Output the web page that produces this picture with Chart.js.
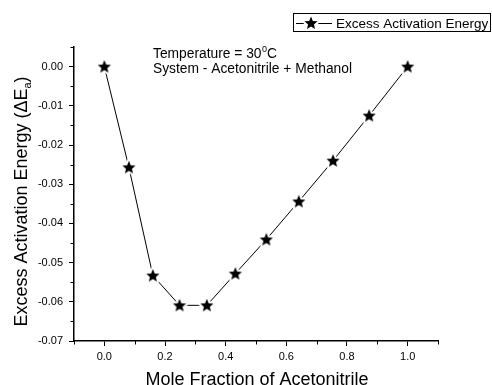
<!DOCTYPE html>
<html>
<head>
<meta charset="utf-8">
<script src="https://cdn.jsdelivr.net/npm/chart.js@4.4.0/dist/chart.umd.min.js"></script>
<style>
  html, body { margin: 0; padding: 0; background: #fff; }
</style>
</head>
<body>
<canvas id="energyChart" width="492" height="385"></canvas>
<script>
// data
const moleFraction = [0, 0.081, 0.160, 0.248, 0.338, 0.432, 0.534, 0.641, 0.754, 0.873, 1.0];
const excessEnergy = [0, -0.0257, -0.0533, -0.0609, -0.0609, -0.0528, -0.0441, -0.0344, -0.0240, -0.0125, 0];
const xTicks = [0, 0.2, 0.4, 0.6, 0.8, 1.0];
const xMinorTicks = [-0.1, 0.1, 0.3, 0.5, 0.7, 0.9, 1.1];
const yTicks = [0, -0.01, -0.02, -0.03, -0.04, -0.05, -0.06, -0.07];
const yMinorTicks = [0.005, -0.005, -0.015, -0.025, -0.035, -0.045, -0.055, -0.065];
const seriesLabel = 'Excess Activation Energy';

const FONT = "'Liberation Sans', Arial, sans-serif";

function makeStar(r) {
  const size = 2 * Math.ceil(r + 3);
  const c = document.createElement('canvas');
  c.width = size;
  c.height = size;
  const g = c.getContext('2d');
  const cx = size / 2, cy = size / 2 + 0.5;
  g.beginPath();
  for (let i = 0; i < 10; i++) {
    const rad = i % 2 === 0 ? r : r * 0.45;
    const a = -Math.PI / 2 + i * Math.PI / 5;
    g.lineTo(cx + rad * Math.cos(a), cy + rad * Math.sin(a));
  }
  g.closePath();
  g.lineJoin = 'round';
  g.strokeStyle = '#fff';
  g.lineWidth = 4;
  g.stroke();
  g.fillStyle = '#000';
  g.fill();
  return c;
}

const star = makeStar(6.9);

// minor ticks, legend box, note and axis titles
const decorPlugin = {
  id: 'decor',
  afterDraw(chart) {
    const ctx = chart.ctx;
    const xs = chart.scales.x;
    const ys = chart.scales.y;
    ctx.save();
    ctx.strokeStyle = '#000';
    ctx.lineWidth = 1;
    ctx.beginPath();
    xMinorTicks.forEach(v => {
      const px = Math.round(xs.getPixelForValue(v)) + 0.5;
      ctx.moveTo(px, xs.top);
      ctx.lineTo(px, xs.top + 3.5);
    });
    yMinorTicks.forEach(v => {
      const py = Math.round(ys.getPixelForValue(v)) + 0.5;
      ctx.moveTo(ys.right, py);
      ctx.lineTo(ys.right - 3.5, py);
    });
    ctx.stroke();

    // legend
    ctx.strokeRect(293.5, 13.5, 197, 18);
    ctx.beginPath();
    ctx.moveTo(296, 23.5);
    ctx.lineTo(332, 23.5);
    ctx.stroke();
    ctx.drawImage(star, 311 - star.width / 2, 23 - star.height / 2);
    ctx.fillStyle = '#000';
    ctx.textBaseline = 'alphabetic';
    ctx.textAlign = 'left';
    ctx.font = '13.5px ' + FONT;
    ctx.fillText(seriesLabel, 336, 28);

    // note
    ctx.font = '13.8px ' + FONT;
    let x = 153;
    ctx.fillText('Temperature = 30', x, 58);
    x += ctx.measureText('Temperature = 30').width;
    ctx.font = '9px ' + FONT;
    ctx.fillText('0', x + 0.5, 52);
    x += ctx.measureText('0').width + 0.5;
    ctx.font = '13.8px ' + FONT;
    ctx.fillText('C', x, 58);
    ctx.fillText('System - Acetonitrile + Methanol', 153, 73);

    // x title
    ctx.font = '18px ' + FONT;
    ctx.textAlign = 'center';
    ctx.fillText('Mole Fraction of Acetonitrile', 257, 384.5);

    // y title with subscript
    ctx.translate(26.5, 201.5);
    ctx.rotate(-Math.PI / 2);
    const main = 'Excess Activation Energy (\u0394E';
    ctx.font = '18px ' + FONT;
    const wMain = ctx.measureText(main).width;
    ctx.font = '11px ' + FONT;
    const wSub = ctx.measureText('a').width;
    ctx.font = '18px ' + FONT;
    const wEnd = ctx.measureText(')').width;
    let tx = -(wMain + wSub + wEnd) / 2;
    ctx.textAlign = 'left';
    ctx.fillText(main, tx, 0);
    tx += wMain;
    ctx.font = '11px ' + FONT;
    ctx.fillText('a', tx, 4);
    tx += wSub;
    ctx.font = '18px ' + FONT;
    ctx.fillText(')', tx, 0);
    ctx.restore();
  }
};

const tickFont = { family: FONT, size: 11 };

new Chart(document.getElementById('energyChart'), {
  type: 'line',
  data: {
    datasets: [{
      label: seriesLabel,
      data: moleFraction.map((m, i) => ({ x: m, y: excessEnergy[i] })),
      borderColor: '#000',
      borderWidth: 1,
      tension: 0,
      pointStyle: star,
      pointRadius: 7,
      pointBackgroundColor: '#000',
      fill: false
    }]
  },
  options: {
    responsive: false,
    devicePixelRatio: 1,
    animation: false,
    layout: { padding: { top: 47, right: 54, bottom: 0, left: 0 } },
    plugins: {
      legend: { display: false },
      tooltip: { enabled: false }
    },
    scales: {
      x: {
        type: 'linear',
        min: -0.1,
        max: 1.1,
        afterBuildTicks: s => { s.ticks = xTicks.map(v => ({ value: v })); },
        afterFit: s => { s.height = 44; },
        ticks: {
          callback: v => v.toFixed(1),
          font: tickFont,
          color: '#000',
          padding: 4,
          maxRotation: 0,
          autoSkip: false
        },
        grid: { drawOnChartArea: false, drawTicks: true, tickLength: 5, tickColor: '#000', tickWidth: 1 },
        border: { color: '#000', width: 1.5 }
      },
      y: {
        type: 'linear',
        min: -0.07,
        max: 0.005,
        afterBuildTicks: s => { s.ticks = yTicks.map(v => ({ value: v })); },
        afterFit: s => { s.width = 74; },
        ticks: {
          callback: v => (Math.abs(v) < 1e-9 ? 0 : v).toFixed(2),
          font: tickFont,
          color: '#000',
          padding: 6,
          autoSkip: false
        },
        grid: { drawOnChartArea: false, drawTicks: true, tickLength: 5, tickColor: '#000', tickWidth: 1 },
        border: { color: '#000', width: 1.5 }
      }
    }
  },
  plugins: [decorPlugin]
});
</script>
</body>
</html>
